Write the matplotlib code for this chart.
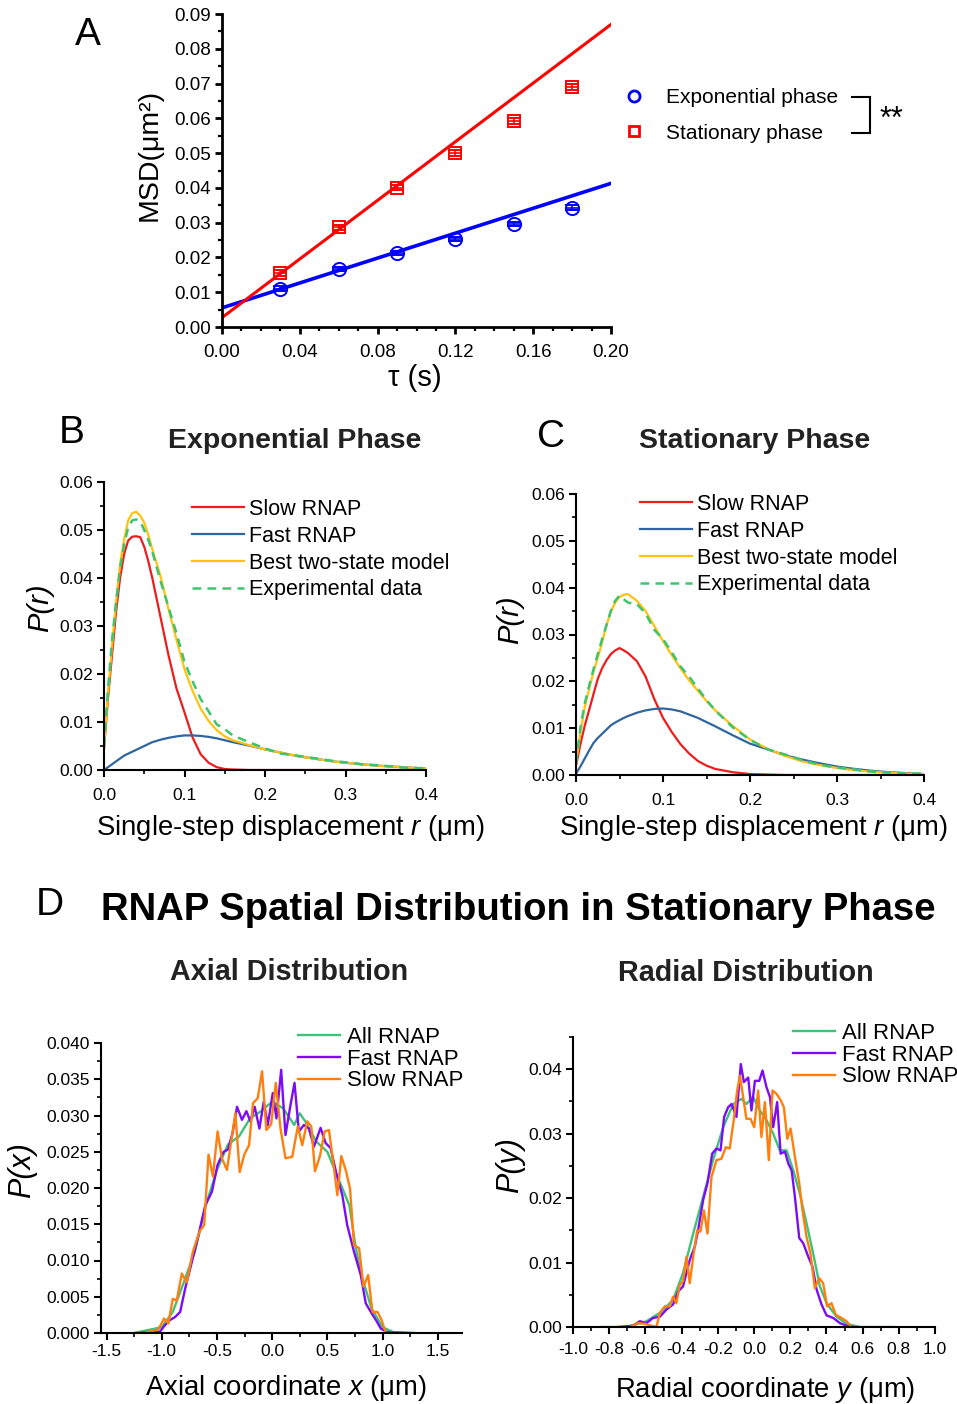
import matplotlib
matplotlib.use("Agg")
import matplotlib.pyplot as plt
from matplotlib.lines import Line2D
from matplotlib.ticker import MultipleLocator, FormatStrFormatter

# ---- panel A: MSD vs lag time ----
tau = [0.03, 0.06, 0.09, 0.12, 0.15, 0.18]
msd_exp = [0.0110, 0.0167, 0.0213, 0.0254, 0.0296, 0.0343]
msd_exp_err = [0.0007, 0.0006, 0.0006, 0.0006, 0.0006, 0.0008]
msd_stat = [0.0155, 0.0287, 0.0400, 0.0500, 0.0593, 0.0690]
msd_stat_err = [0.0008, 0.0007, 0.0007, 0.0008, 0.0008, 0.0009]
fit_tau = [0.0, 0.20]
fit_exp = [0.0055, 0.0413]
fit_stat = [0.0027, 0.0870]

# ---- panels B/C: single-step displacement distributions ----
r_grid = [0, 0.005, 0.01, 0.015, 0.02, 0.025, 0.03, 0.035, 0.04, 0.045, 0.05, 0.055,
          0.06, 0.07, 0.08, 0.09, 0.10, 0.11, 0.12, 0.13, 0.14, 0.15, 0.16, 0.18,
          0.20, 0.22, 0.24, 0.26, 0.28, 0.30, 0.32, 0.34, 0.36, 0.38, 0.40]
exp_slow = [0.0045, 0.015, 0.024, 0.033, 0.040, 0.045, 0.0478, 0.0486, 0.0487, 0.0485,
            0.0465, 0.0435, 0.040, 0.032, 0.024, 0.017, 0.012, 0.0068, 0.0033, 0.0015,
            0.0006, 0.0002, 0.0001, 0, 0, 0, 0, 0, 0, 0, 0, 0, 0, 0, 0]
exp_fast = [0, 0.0006, 0.0012, 0.0018, 0.0024, 0.003, 0.0034, 0.0038, 0.0042, 0.0046,
            0.0050, 0.0054, 0.0058, 0.0063, 0.0067, 0.0070, 0.0072, 0.0072, 0.0071,
            0.0069, 0.0066, 0.0062, 0.0058, 0.0051, 0.0043, 0.0036, 0.0029, 0.0024,
            0.0019, 0.0015, 0.0012, 0.0009, 0.0007, 0.0005, 0.0003]
exp_model = [0.0045, 0.016, 0.026, 0.035, 0.043, 0.048, 0.052, 0.0535, 0.0538, 0.053,
             0.0515, 0.049, 0.046, 0.0405, 0.0336, 0.0272, 0.021, 0.0165, 0.0128, 0.0102,
             0.0083, 0.0070, 0.0062, 0.0052, 0.0043, 0.0036, 0.0029, 0.0024, 0.0019,
             0.0015, 0.0012, 0.0009, 0.0007, 0.0005, 0.0003]
exp_data = [0.005, 0.017, 0.027, 0.035, 0.042, 0.047, 0.0505, 0.052, 0.0522, 0.0518,
            0.050, 0.048, 0.0455, 0.0395, 0.034, 0.0285, 0.0225, 0.0185, 0.0148, 0.0122,
            0.0095, 0.0085, 0.0072, 0.0058, 0.0045, 0.0034, 0.0030, 0.0025, 0.0020,
            0.0016, 0.0012, 0.0010, 0.0007, 0.0004, 0.0004]
st_slow = [0.002, 0.0065, 0.0105, 0.0138, 0.0172, 0.0205, 0.0228, 0.0245, 0.0258, 0.0266,
           0.0271, 0.0266, 0.0260, 0.0243, 0.0210, 0.0162, 0.0122, 0.0092, 0.0066, 0.0046,
           0.0030, 0.0020, 0.0013, 0.0006, 0.0002, 0.0001, 0, 0, 0, 0, 0, 0, 0, 0, 0]
st_fast = [0.0003, 0.0018, 0.0035, 0.0052, 0.0068, 0.0079, 0.0088, 0.0097, 0.0106, 0.0112,
           0.0117, 0.0122, 0.0126, 0.0133, 0.0138, 0.0141, 0.0142, 0.0140, 0.0136, 0.0129,
           0.0122, 0.0113, 0.0104, 0.0085, 0.0067, 0.0055, 0.0042, 0.0033, 0.0025, 0.0018,
           0.0013, 0.0009, 0.0006, 0.0004, 0.0002]
st_model = [0.0025, 0.009, 0.0145, 0.0182, 0.022, 0.025, 0.0283, 0.032, 0.0348, 0.0368,
            0.038, 0.0385, 0.0386, 0.0372, 0.0350, 0.0318, 0.0286, 0.0256, 0.0228, 0.0202,
            0.0180, 0.0158, 0.0138, 0.0105, 0.0076, 0.0056, 0.0041, 0.0029, 0.0021, 0.0015,
            0.0010, 0.0007, 0.0005, 0.0003, 0.0002]
st_data = [0.0025, 0.010, 0.0152, 0.019, 0.0225, 0.0258, 0.029, 0.032, 0.035, 0.0372,
           0.0383, 0.0375, 0.0368, 0.0365, 0.0345, 0.0310, 0.0290, 0.0262, 0.0232, 0.0210,
           0.0185, 0.0160, 0.0138, 0.0102, 0.0075, 0.0055, 0.0044, 0.0032, 0.0022, 0.0016,
           0.0012, 0.0007, 0.0005, 0.0003, 0.0003]

# ---- panel D: axial distribution ----
ax_all_x = [-1.25, -1.0, -0.9, -0.8, -0.7, -0.6, -0.5, -0.4, -0.3, -0.2, -0.1, 0.0, 0.1,
            0.2, 0.25, 0.3, 0.4, 0.5, 0.6, 0.7, 0.75, 0.8, 0.9, 1.0, 1.1, 1.3]
ax_all_y = [0, 0.0008, 0.0029, 0.007, 0.0112, 0.0176, 0.0225, 0.026, 0.0271, 0.0296, 0.0306,
            0.0319, 0.031, 0.0287, 0.0303, 0.0292, 0.0264, 0.025, 0.0213, 0.0176, 0.0125,
            0.0084, 0.0034, 0.0008, 0.0001, 0]
ax_fast_x = [-1.23, -1.08, -1.015, -0.97, -0.924, -0.879, -0.833, -0.788, -0.727, -0.667,
             -0.606, -0.545, -0.494, -0.439, -0.40, -0.358, -0.318, -0.273, -0.233, -0.197,
             -0.158, -0.115, -0.076, -0.039, 0.006, 0.039, 0.082, 0.121, 0.167, 0.203,
             0.242, 0.288, 0.333, 0.379, 0.439, 0.485, 0.53, 0.585, 0.636, 0.68, 0.742,
             0.803, 0.848, 0.894, 0.94, 0.985, 1.045, 1.24]
ax_fast_y = [0, 0.0001, 0.0002, 0.0011, 0.0018, 0.0022, 0.0029, 0.0061, 0.0098, 0.0135,
             0.0176, 0.0195, 0.0232, 0.025, 0.0253, 0.0276, 0.0312, 0.0294, 0.0306, 0.0292,
             0.0312, 0.0282, 0.0319, 0.0287, 0.0331, 0.0296, 0.0363, 0.0273, 0.0315, 0.0345,
             0.0278, 0.0287, 0.0282, 0.0257, 0.0283, 0.0262, 0.0255, 0.0218, 0.019, 0.0149,
             0.0112, 0.008, 0.0041, 0.0029, 0.0018, 0.0006, 0.0001, 0]
ax_slow_x = [-1.136, -1.03, -0.979, -0.94, -0.90, -0.864, -0.818, -0.773, -0.718, -0.658,
             -0.615, -0.576, -0.536, -0.494, -0.455, -0.409, -0.333, -0.294, -0.252, -0.209,
             -0.173, -0.130, -0.091, -0.052, -0.009, 0.033, 0.076, 0.121, 0.182, 0.233,
             0.273, 0.318, 0.355, 0.388, 0.433, 0.476, 0.515, 0.561, 0.591, 0.627, 0.67,
             0.706, 0.742, 0.788, 0.827, 0.87, 0.909, 0.955, 0.991, 1.03]
ax_slow_y = [0.0001, 0.0005, 0.002, 0.0013, 0.0047, 0.0045, 0.0082, 0.007, 0.0112, 0.014,
             0.0149, 0.0246, 0.0216, 0.0278, 0.0241, 0.0225, 0.0303, 0.0222, 0.0246, 0.0259,
             0.0317, 0.0324, 0.0361, 0.028, 0.0288, 0.0345, 0.0282, 0.0241, 0.0243, 0.0285,
             0.0259, 0.0292, 0.0285, 0.0223, 0.0244, 0.0278, 0.028, 0.0227, 0.019, 0.0244,
             0.0223, 0.0199, 0.0121, 0.0117, 0.0064, 0.008, 0.0029, 0.0029, 0.0018, 0]

# ---- panel D: radial distribution ----
rad_all_x = [-0.843, -0.705, -0.594, -0.52, -0.447, -0.392, -0.336, -0.281, -0.226, -0.17,
             -0.115, -0.069, -0.042, -0.005, 0.032, 0.069, 0.106, 0.143, 0.18, 0.217,
             0.253, 0.29, 0.327, 0.364, 0.401, 0.456, 0.511, 0.585, 0.77]
rad_all_y = [0, 0, 0.0009, 0.0022, 0.0042, 0.0084, 0.0145, 0.0202, 0.0259, 0.031, 0.0346,
             0.0354, 0.0346, 0.0357, 0.0336, 0.0321, 0.03, 0.0274, 0.0274, 0.0243, 0.0207,
             0.0161, 0.0114, 0.0063, 0.0037, 0.0016, 0.0005, 0, 0]
rad_fast_x = [-0.751, -0.668, -0.631, -0.594, -0.558, -0.52, -0.484, -0.447, -0.419, -0.392,
              -0.355, -0.327, -0.309, -0.281, -0.257, -0.231, -0.207, -0.185, -0.165,
              -0.143, -0.124, -0.097, -0.073, -0.056, -0.032, -0.014, 0.005, 0.029, 0.047,
              0.069, 0.088, 0.106, 0.128, 0.147, 0.171, 0.189, 0.208, 0.226, 0.25, 0.272,
              0.3, 0.323, 0.346, 0.373, 0.401, 0.438, 0.475, 0.511, 0.548]
rad_fast_y = [0, 0.0002, 0.0009, 0.0006, 0.0014, 0.0016, 0.0027, 0.0035, 0.0055, 0.0063,
              0.0104, 0.0125, 0.015, 0.0197, 0.0223, 0.0269, 0.0277, 0.0274, 0.0326, 0.0341,
              0.0346, 0.0326, 0.0408, 0.038, 0.0387, 0.0336, 0.0382, 0.0382, 0.0398, 0.0372,
              0.0357, 0.031, 0.0349, 0.0269, 0.0272, 0.0254, 0.0243, 0.0202, 0.0138, 0.013,
              0.0109, 0.0094, 0.0058, 0.0035, 0.0018, 0.0014, 0.0006, 0.0002, 0]
rad_slow_x = [-0.686, -0.641, -0.604, -0.567, -0.539, -0.52, -0.493, -0.465, -0.447, -0.429,
              -0.41, -0.392, -0.373, -0.355, -0.336, -0.314, -0.296, -0.277, -0.257, -0.235,
              -0.207, -0.18, -0.156, -0.134, -0.112, -0.093, -0.078, -0.06, -0.042, -0.019,
              0.001, 0.023, 0.041, 0.06, 0.082, 0.102, 0.124, 0.147, 0.165, 0.184, 0.202,
              0.226, 0.25, 0.268, 0.29, 0.312, 0.336, 0.36, 0.382, 0.404, 0.428, 0.452,
              0.484, 0.511, 0.539]
rad_slow_y = [0, 0.0006, 0.0005, 0.0002, 0, 0.0022, 0.0032, 0.0032, 0.0047, 0.0037, 0.0065,
              0.0071, 0.0109, 0.0068, 0.0109, 0.015, 0.0148, 0.0181, 0.0145, 0.0233, 0.0259,
              0.0261, 0.0279, 0.0277, 0.0321, 0.0367, 0.039, 0.0357, 0.0323, 0.0323, 0.031,
              0.0367, 0.0295, 0.0349, 0.0259, 0.0367, 0.0362, 0.0352, 0.0341, 0.0292, 0.0308,
              0.0264, 0.0223, 0.0181, 0.014, 0.0114, 0.006, 0.0076, 0.0068, 0.0032, 0.0037,
              0.0019, 0.0014, 0.0009, 0]

RED, BLUE, GOLD, GREEN = "#ee1c1c", "#31659f", "#ffc20e", "#3dc46e"
D_GREEN, D_PURPLE, D_ORANGE = "#3ec27a", "#7b0cf5", "#ff7f0e"

W, H = 957, 1404
plt.rcParams["font.family"] = ["Liberation Sans", "DejaVu Sans"]
plt.rcParams["mathtext.fontset"] = "custom"
plt.rcParams["mathtext.rm"] = "Liberation Sans"
plt.rcParams["mathtext.it"] = "Liberation Sans:italic"
plt.rcParams["axes.unicode_minus"] = False

fig = plt.figure(figsize=(W / 100, H / 100), dpi=100)


def box(l, t, r, b):
    return [l / W, 1 - b / H, (r - l) / W, (b - t) / H]


def fxy(x, y):
    return (x / W, 1 - y / H)


def style(ax, xmaj, xmin, ymaj, ymin, xfmt, yfmt, size, lw=1.5, xpad=3):
    for s in ("top", "right"):
        ax.spines[s].set_visible(False)
    for s in ("left", "bottom"):
        ax.spines[s].set_linewidth(lw)
    ax.xaxis.set_major_locator(MultipleLocator(xmaj))
    ax.xaxis.set_minor_locator(MultipleLocator(xmin))
    ax.yaxis.set_major_locator(MultipleLocator(ymaj))
    ax.yaxis.set_minor_locator(MultipleLocator(ymin))
    ax.xaxis.set_major_formatter(FormatStrFormatter(xfmt))
    ax.yaxis.set_major_formatter(FormatStrFormatter(yfmt))
    ax.tick_params(which="major", direction="out", length=5, width=lw, labelsize=size, pad=3)
    ax.tick_params(axis="x", which="major", pad=xpad)
    ax.tick_params(which="minor", direction="out", length=3, width=lw * 0.8)


TITLE = dict(fontweight="bold", color="#222222")

# ================= A =================
axA = fig.add_axes(box(222, 14, 611, 327))
axA.plot(fit_tau, fit_exp, color="#0000ff", lw=2.6, zorder=2)
axA.plot(fit_tau, fit_stat, color="#ff0000", lw=2.2, zorder=2)
axA.errorbar(tau, msd_exp, yerr=msd_exp_err, fmt="o", ms=9.5, mfc="none", mec="#0000ff",
             mew=1.4, ecolor="#0000ff", elinewidth=1.2, capsize=5, capthick=1.2, zorder=3)
axA.errorbar(tau, msd_stat, yerr=msd_stat_err, fmt="s", ms=8.5, mfc="none", mec="#ff0000",
             mew=1.4, ecolor="#ff0000", elinewidth=1.2, capsize=5, capthick=1.2, zorder=3)
# horizontal cross bar through each symbol
axA.plot(tau, msd_exp, ls="none", marker="_", ms=9.5, mew=1.2, color="#0000ff", zorder=3)
axA.plot(tau, msd_stat, ls="none", marker="_", ms=8.5, mew=1.2, color="#ff0000", zorder=3)
axA.set_xlim(0, 0.2)
axA.set_ylim(0, 0.09)
style(axA, 0.04, 0.01, 0.01, 0.005, "%.2f", "%.2f", 13.5, lw=2, xpad=7)
fig.text(*fxy(150, 155), "MSD(μm²)", rotation=90, ha="center", va="center", fontsize=20.5)
fig.text(*fxy(415, 378), "τ (s)", ha="center", va="center", fontsize=21)
fig.text(*fxy(88, 35), "A", ha="center", va="center", fontsize=28)

hA = [Line2D([], [], ls="none", marker="o", ms=8, mfc="none", mec="#0000ff", mew=2),
      Line2D([], [], ls="none", marker="s", ms=7, mfc="none", mec="#ff0000", mew=2)]
fig.legend(hA, ["Exponential phase", "Stationary phase"], loc="upper left",
           bbox_to_anchor=fxy(624, 88), frameon=False, fontsize=15, handlelength=1.0,
           handletextpad=1.0, labelspacing=0.8, borderpad=0, borderaxespad=0)
for seg in ([(852, 97), (870, 97)], [(870, 97), (870, 133)], [(870, 133), (852, 133)]):
    xs = [p[0] / W for p in seg]
    ys = [1 - p[1] / H for p in seg]
    fig.add_artist(Line2D(xs, ys, color="black", lw=1.5, transform=fig.transFigure))
fig.text(*fxy(891, 120), "**", ha="center", va="center", fontsize=22)


# ================= B / C =================
def displacement_panel(rect, slow, fast, model, data, title, tpos, letter, lpos, legpos,
                       ylab_pos, xlab_pos):
    ax = fig.add_axes(box(*rect))
    ax.plot(r_grid, slow, color=RED, lw=1.6, label="Slow RNAP")
    ax.plot(r_grid, fast, color=BLUE, lw=1.6, label="Fast RNAP")
    ax.plot(r_grid, model, color=GOLD, lw=1.6, label="Best two-state model")
    ax.plot(r_grid, data, color=GREEN, lw=1.8, ls=(0, (3.5, 2.5)), label="Experimental data")
    ax.set_xlim(0, 0.4)
    ax.set_ylim(0, 0.06)
    style(ax, 0.1, 0.05, 0.01, 0.005, "%.1f", "%.2f", 12.5, lw=1.5, xpad=8)
    ax.legend(loc="upper left", bbox_to_anchor=fxy(*legpos), bbox_transform=fig.transFigure,
              frameon=False, fontsize=15.5, handlelength=2.4, handletextpad=0.25,
              labelspacing=0.27, borderpad=0, borderaxespad=0)
    fig.text(*fxy(*tpos), title, ha="center", va="center", fontsize=20.5, **TITLE)
    fig.text(*fxy(*lpos), letter, ha="center", va="center", fontsize=28)
    fig.text(*fxy(*ylab_pos), "P(r)", rotation=90, ha="center", va="center", fontsize=21,
             style="italic")
    fig.text(*fxy(*xlab_pos), "Single-step displacement $r$ (μm)", ha="center", va="center",
             fontsize=19.8)
    return ax


displacement_panel((104, 482, 426, 770), exp_slow, exp_fast, exp_model, exp_data,
                   "Exponential Phase", (295, 441), "B", (72, 433), (192, 499),
                   (40, 608), (290, 828))
displacement_panel((576, 494, 924, 775), st_slow, st_fast, st_model, st_data,
                   "Stationary Phase", (755, 441), "C", (551, 437), (640, 494),
                   (510, 620), (753, 828))

# ================= D =================
fig.text(*fxy(50, 905), "D", ha="center", va="center", fontsize=28)
fig.text(*fxy(518, 910), "RNAP Spatial Distribution in Stationary Phase", ha="center",
         va="center", fontsize=27.5, fontweight="bold")


def distribution_panel(rect, xs, ys, xlim, ylim, xmaj, xmin, ymaj, ymin, yfmt, title, tpos,
                       legpos, ylab, ylab_pos, xlab, xlab_pos, xpad):
    ax = fig.add_axes(box(*rect))
    for (x, y), c, lab in zip(zip(xs, ys), (D_GREEN, D_PURPLE, D_ORANGE),
                              ("All RNAP", "Fast RNAP", "Slow RNAP")):
        ax.plot(x, y, color=c, lw=1.7, label=lab)
    ax.set_xlim(*xlim)
    ax.set_ylim(*ylim)
    style(ax, xmaj, xmin, ymaj, ymin, "%.1f", yfmt, 12.5, lw=1.5, xpad=xpad)
    ax.legend(loc="upper left", bbox_to_anchor=fxy(*legpos), bbox_transform=fig.transFigure,
              frameon=False, fontsize=16, handlelength=1.9, handletextpad=0.3,
              labelspacing=0.03, borderpad=0, borderaxespad=0)
    fig.text(*fxy(*tpos), title, ha="center", va="center", fontsize=20.7, **TITLE)
    fig.text(*fxy(*ylab_pos), ylab, rotation=90, ha="center", va="center", fontsize=22,
             style="italic")
    fig.text(*fxy(*xlab_pos), xlab, ha="center", va="center", fontsize=19.8)
    return ax


distribution_panel((101, 1043, 462, 1333), (ax_all_x, ax_fast_x, ax_slow_x),
                   (ax_all_y, ax_fast_y, ax_slow_y), (-1.55, 1.72), (0, 0.040),
                   0.5, 0.25, 0.005, 0.0025, "%.3f", "Axial Distribution", (289, 972),
                   (298, 1027), "P(x)", (22, 1170), "Axial coordinate $x$ (μm)", (286, 1388),
                   3)
distribution_panel((573, 1037, 935, 1327), (rad_all_x, rad_fast_x, rad_slow_x),
                   (rad_all_y, rad_fast_y, rad_slow_y), (-1.0, 1.0), (0, 0.045),
                   0.2, 0.1, 0.01, 0.005, "%.2f", "Radial Distribution", (746, 973),
                   (793, 1023), "P(y)", (510, 1165), "Radial coordinate $y$ (μm)", (765, 1390),
                   6)

fig.savefig("out.png", dpi=100)
